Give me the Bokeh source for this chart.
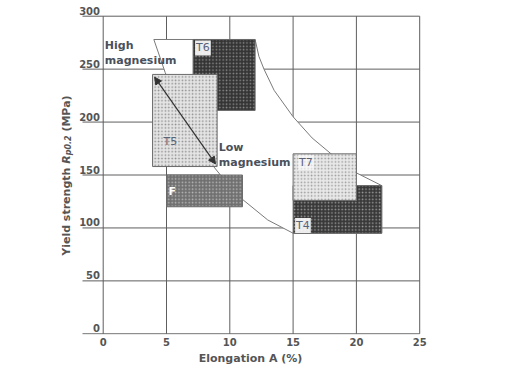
import math
from bokeh.plotting import figure
from bokeh.models import Range1d, FixedTicker, Label, Arrow, NormalHead
from bokeh.embed import file_html
from bokeh.resources import INLINE

# ---------------- data ----------------
x_ticks = [0, 5, 10, 15, 20, 25]
y_ticks = [0, 50, 100, 150, 200, 250, 300]
y_tick_labels = ["0", "50", "100", "150", "200", "250", "300"]

tempers = ["T6", "T5", "F", "T4", "T7"]
elong_min = [7.1, 3.9, 5.0, 15.0, 15.0]
elong_max = [12.0, 9.0, 11.0, 22.0, 20.0]
ys_min = [211, 158, 120, 95, 126]
ys_max = [278, 245, 150, 140, 170]

envelope_x = [4.0, 12.0, 12.3, 12.7, 13.5, 15.0, 16.5, 18.0, 20.0, 22.0, 22.0, 15.0, 13.0, 11.0, 10.0, 9.3, 8.7, 6.0, 4.9]
envelope_y = [278, 278, 262, 250, 230, 205, 185, 170, 152, 140, 95, 95, 107.5, 127, 138, 149.4, 158.3, 215, 246.7]

arrow_x = [4.06, 8.87]
arrow_y = [242.4, 160.5]

# ---------------- layout ----------------
KX = 12.66          # px per % elongation
KY = 1.0587         # px per MPa
X0_PAGE = 102.7     # page x of elongation 0
Y300_PAGE = 15.7    # page y of 300 MPa
W, H = 500, 368
BOTTOM = 34
XMIN = -X0_PAGE / KX
XMAX = XMIN + W / KX
YMAX = 300 + Y300_PAGE / KY
YMIN = YMAX - (H - BOTTOM) / KY

FONT = "DejaVu Sans"

p = figure(width=W, height=H, x_range=Range1d(XMIN, XMAX), y_range=Range1d(YMIN, YMAX),
           output_backend="svg", toolbar_location=None, title=None,
           min_border_left=0, min_border_right=0, min_border_top=0, min_border_bottom=BOTTOM)
p.outline_line_color = None
p.xgrid.visible = False
p.ygrid.visible = False
p.yaxis.visible = False
p.background_fill_color = "white"
p.border_fill_color = "white"

ax = p.xaxis[0]
ax.ticker = FixedTicker(ticks=x_ticks)
ax.bounds = (x_ticks[0], x_ticks[-1])
ax.axis_line_color = None
ax.major_tick_line_color = None
ax.minor_tick_line_color = None
ax.major_tick_out = 0
ax.major_tick_in = 0
ax.major_label_standoff = 3
ax.major_label_text_font = FONT
ax.major_label_text_font_style = "bold"
ax.major_label_text_font_size = "10px"
ax.major_label_text_color = "#555555"
ax.axis_label = "Elongation A (%)"
ax.axis_label_standoff = 3
ax.axis_label_text_font = FONT
ax.axis_label_text_font_style = "bold"
ax.axis_label_text_font_size = "11px"
ax.axis_label_text_color = "#555555"

GRID = "#5e5e5e"
grid_left = -(X0_PAGE - 82) / KX
# horizontal grid lines (extend to the left like long ticks)
p.segment(x0=[grid_left] * len(y_ticks), x1=[x_ticks[-1]] * len(y_ticks), y0=y_ticks, y1=y_ticks,
          line_color=GRID, line_width=1)
# vertical grid lines
p.segment(x0=x_ticks, x1=x_ticks, y0=[y_ticks[0]] * len(x_ticks), y1=[y_ticks[-1]] * len(x_ticks),
          line_color=GRID, line_width=1)

# envelope of the property ranges
p.patch(envelope_x, envelope_y, fill_color="white", line_color="#7a7a7a", line_width=1)

styles = {
    "T6": dict(fill_color="#343434", hatch_color="#8c8c8c"),
    "T5": dict(fill_color="#e4e4e4", hatch_color="#8e8e8e"),
    "F":  dict(fill_color="#707070", hatch_color="#b8b8b8"),
    "T4": dict(fill_color="#383838", hatch_color="#9a9a9a"),
    "T7": dict(fill_color="#e8e8e8", hatch_color="#9a9a9a"),
}
for i, t in enumerate(tempers):
    st = styles[t]
    p.quad(left=[elong_min[i]], right=[elong_max[i]], bottom=[ys_min[i]], top=[ys_max[i]],
           fill_color=st["fill_color"], hatch_pattern="dot", hatch_color=st["hatch_color"],
           hatch_scale=3.4, hatch_weight=1.4, line_color="#6a6a6a", line_width=1)

p.add_layout(Arrow(x_start=arrow_x[0], y_start=arrow_y[0], x_end=arrow_x[1], y_end=arrow_y[1],
                   line_color="#333333", line_width=1.2,
                   start=NormalHead(size=7, fill_color="#333333", line_color="#333333"),
                   end=NormalHead(size=7, fill_color="#333333", line_color="#333333")))

def px_y(page_y):
    return 300 - (page_y - Y300_PAGE) / KY

def px_x(page_x):
    return (page_x - X0_PAGE) / KX

# y tick labels (sit above their grid line)
for v, s in zip(y_ticks, y_tick_labels):
    p.add_layout(Label(x=px_x(99.5), y=v, text=s, text_align="right", text_baseline="middle",
                       y_offset=5.5, text_font=FONT, text_font_style="bold",
                       text_font_size="10px", text_color="#555555"))

TXT = "#4a505c"
def lab(x, y, text, size="11px", style="bold", color=TXT, **kw):
    p.add_layout(Label(x=x, y=y, text=text, text_font=FONT, text_font_style=style,
                       text_font_size=size, text_color=color, text_baseline="middle", **kw))

lab(px_x(104.3), px_y(45.3), "High")
lab(px_x(104.3), px_y(60.0), "magnesium")
lab(px_x(218.3), px_y(146.7), "Low")
lab(px_x(218.3), px_y(161.7), "magnesium")

# box labels
BL = "#5a6478"
i6 = tempers.index("T6"); i5 = tempers.index("T5"); iF = tempers.index("F")
i4 = tempers.index("T4"); i7 = tempers.index("T7")
lab(elong_min[i6], ys_max[i6], "T6", style="normal", color=BL, x_offset=2, y_offset=-8.4,
    background_fill_color="white", background_fill_alpha=0.9, padding=1)
lab(elong_min[i5], px_y(140.5), "T5", style="normal", color=BL, x_offset=11)
lab(elong_min[iF], px_y(191), "F", style="bold", color="white", x_offset=2)
lab(elong_min[i7], ys_max[i7], "T7", style="normal", color=BL, x_offset=5, y_offset=-8.7,
    background_fill_color="white", background_fill_alpha=0.6, padding=1)
lab(elong_min[i4], ys_min[i4], "T4", style="normal", color=BL, x_offset=2, y_offset=7.7,
    background_fill_color="white", background_fill_alpha=0.9, padding=1)

# y axis title: "Yield strength R p0.2 (MPa)"
AX = "#555555"
xb = px_x(65.5)
xs = px_x(68.0)
lab(xb, px_y(255.3), "Yield strength", color=AX, angle=math.pi / 2)
lab(xb, px_y(163.3), "R", style="bold italic", color=AX, angle=math.pi / 2)
lab(xs, px_y(154.8), "p0.2", size="8px", style="bold italic", color=AX, angle=math.pi / 2)
lab(xb, px_y(131.1), "(MPa)", color=AX, angle=math.pi / 2)

open("out.html", "w").write(file_html(p, INLINE))
